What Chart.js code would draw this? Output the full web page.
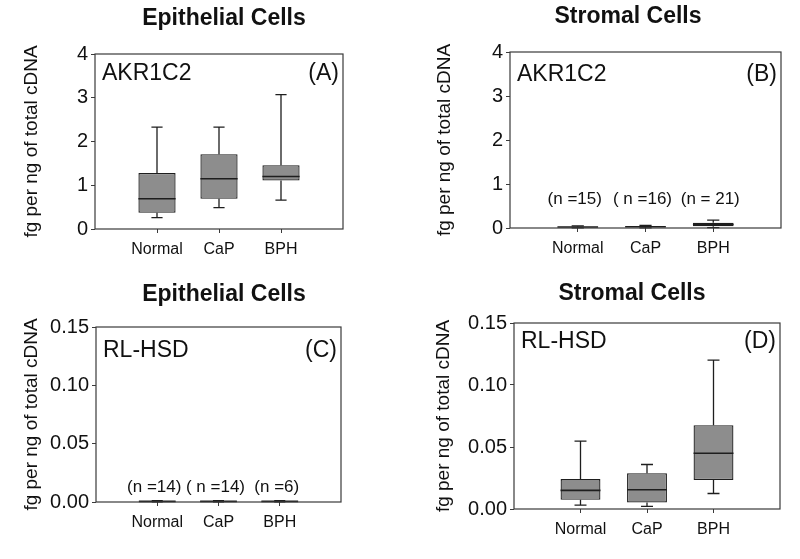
<!DOCTYPE html>
<html>
<head>
<meta charset="utf-8">
<script src="https://cdn.jsdelivr.net/npm/chart.js@4"></script>
<style>
  html,body{margin:0;padding:0;background:#fff;}
  #wrap{position:relative;width:800px;height:559px;overflow:hidden;background:#fff;}
  canvas{position:absolute;}
</style>
</head>
<body>
<div id="wrap">
  <canvas id="cA" width="400" height="280" style="left:0;top:0"></canvas>
  <canvas id="cB" width="400" height="280" style="left:400px;top:0"></canvas>
  <canvas id="cC" width="400" height="279" style="left:0;top:280px"></canvas>
  <canvas id="cD" width="400" height="279" style="left:400px;top:280px"></canvas>
</div>
<script>
// ---------- DATA ----------
const categories = ['Normal', 'CaP', 'BPH'];

// Panel A: AKR1C2, epithelial cells
const akrEpiMin    = [0.26, 0.49, 0.66];
const akrEpiQ1     = [0.37, 0.69, 1.11];
const akrEpiMedian = [0.69, 1.15, 1.20];
const akrEpiQ3     = [1.28, 1.71, 1.46];
const akrEpiMax    = [2.33, 2.33, 3.07];

// Panel B: AKR1C2, stromal cells
const akrStrMin    = [0.005, 0.005, 0.01];
const akrStrQ1     = [0.015, 0.02, 0.04];
const akrStrMedian = [0.022, 0.028, 0.08];
const akrStrQ3     = [0.03, 0.035, 0.12];
const akrStrMax    = [0.05, 0.06, 0.18];
const akrStrN      = ['(n =15)', '( n =16)', '(n = 21)'];
const akrStrNLevel = 0.66;

// Panel C: RL-HSD, epithelial cells
const rlEpiMin    = [0.0001, 0.0001, 0.0001];
const rlEpiQ1     = [0.0003, 0.0003, 0.0003];
const rlEpiMedian = [0.0005, 0.0005, 0.0005];
const rlEpiQ3     = [0.0008, 0.0008, 0.0008];
const rlEpiMax    = [0.0012, 0.0012, 0.0012];
const rlEpiN      = ['(n =14)', '( n =14)', '(n =6)'];
const rlEpiNLevel = 0.013;

// Panel D: RL-HSD, stromal cells
const rlStrMin    = [0.0032, 0.0021, 0.0125];
const rlStrQ1     = [0.0075, 0.0053, 0.0233];
const rlStrMedian = [0.0150, 0.0155, 0.0450];
const rlStrQ3     = [0.0241, 0.0289, 0.0675];
const rlStrMax    = [0.0547, 0.0359, 0.1200];

const akrTicks = [0, 1, 2, 3, 4];
const rlTicks  = [0, 0.05, 0.10, 0.15];

// ---------- STYLE ----------
const FONT = "'Liberation Sans', Arial, Helvetica, sans-serif";
const BOX_FILL = '#8d8d8d';
const INK = '#1e1e1e';
const AXIS = '#3a3a3a';

// ---------- PLUGINS ----------
const boxPlotPlugin = {
  id: 'boxPlot',
  afterDatasetsDraw(chart, args, opts) {
    const ctx = chart.ctx, xs = chart.scales.x, ys = chart.scales.y;
    const meta = chart.getDatasetMeta(0);
    ctx.save();
    ctx.strokeStyle = INK;
    opts.min.forEach((mn, i) => {
      const el = meta.data[i];
      const x = xs.getPixelForValue(i + 1);
      const w = el.width;
      const cap = w * 0.3;
      const yMin = ys.getPixelForValue(mn);
      const yMed = ys.getPixelForValue(opts.median[i]);
      const yQ1 = ys.getPixelForValue(opts.q1[i]);
      const yQ3 = ys.getPixelForValue(opts.q3[i]);
      const yMax = ys.getPixelForValue(opts.max[i]);
      ctx.lineWidth = 1.3;
      ctx.beginPath();
      ctx.moveTo(x, yQ3); ctx.lineTo(x, yMax);
      ctx.moveTo(x - cap / 2, yMax); ctx.lineTo(x + cap / 2, yMax);
      ctx.moveTo(x, yQ1); ctx.lineTo(x, yMin);
      ctx.moveTo(x - cap / 2, yMin); ctx.lineTo(x + cap / 2, yMin);
      ctx.stroke();
      ctx.lineWidth = 1.6;
      ctx.beginPath();
      ctx.moveTo(x - w / 2, yMed); ctx.lineTo(x + w / 2, yMed);
      ctx.stroke();
    });
    ctx.restore();
  }
};

const panelTextPlugin = {
  id: 'panelText',
  afterDraw(chart, args, opts) {
    const ctx = chart.ctx, a = chart.chartArea, xs = chart.scales.x, ys = chart.scales.y;
    ctx.save();
    ctx.strokeStyle = AXIS;
    ctx.lineWidth = 1.2;
    ctx.strokeRect(a.left, a.top, a.right - a.left, a.bottom - a.top);
    ctx.fillStyle = '#111';
    ctx.textBaseline = 'middle';
    ctx.font = "bold 23px " + FONT;
    ctx.textAlign = 'center';
    ctx.fillText(opts.title, opts.titleX, opts.titleY);
    ctx.font = "23px " + FONT;
    ctx.textAlign = 'left';
    ctx.fillText(opts.gene, a.left + 7, a.top + opts.labelDy);
    ctx.textAlign = 'right';
    ctx.fillText(opts.tag, a.right - 4, a.top + opts.labelDy);
    if (opts.n) {
      ctx.font = "17px " + FONT;
      ctx.textAlign = 'center';
      const y = ys.getPixelForValue(opts.nLevel);
      opts.n.forEach((t, i) => ctx.fillText(t, xs.getPixelForValue(i + 1) - 3, y));
    }
    ctx.restore();
  }
};

function makeChart(id, cfg) {
  const data = categories.map((c, i) => ({ x: i + 1, y: [cfg.q1[i], cfg.q3[i]] }));
  return new Chart(document.getElementById(id), {
    type: 'bar',
    data: {
      datasets: [{
        data: data,
        backgroundColor: BOX_FILL,
        borderColor: INK,
        borderWidth: 1.3,
        borderSkipped: false,
        barPercentage: 0.6,
        categoryPercentage: 1.0
      }]
    },
    options: {
      responsive: false,
      animation: false,
      devicePixelRatio: 1,
      layout: { padding: cfg.pad },
      plugins: {
        legend: { display: false },
        tooltip: { enabled: false },
        title: { display: false },
        boxPlot: { min: cfg.min, q1: cfg.q1, median: cfg.median, q3: cfg.q3, max: cfg.max },
        panelText: {
          title: cfg.title, titleX: cfg.titleX, titleY: cfg.titleY,
          gene: cfg.gene, tag: cfg.tag, labelDy: cfg.labelDy,
          n: cfg.n, nLevel: cfg.nLevel
        }
      },
      scales: {
        x: {
          type: 'linear',
          min: 0, max: 4,
          offset: false,
          afterBuildTicks: (s) => { s.ticks = categories.map((c, i) => ({ value: i + 1 })); },
          afterFit: (s) => { s.height = 40; },
          border: { display: false },
          grid: { display: true, offset: false, drawOnChartArea: false, drawTicks: true, tickLength: 4, color: AXIS, lineWidth: 1 },
          ticks: {
            padding: 7,
            color: '#111',
            font: { family: FONT, size: 16 },
            callback: (v) => categories[v - 1] || ''
          }
        },
        y: {
          type: 'linear',
          min: cfg.ticks[0], max: cfg.ticks[cfg.ticks.length - 1],
          afterBuildTicks: (s) => { s.ticks = cfg.ticks.map(v => ({ value: v })); },
          afterFit: (s) => { s.width = cfg.yWidth; },
          border: { display: false },
          grid: { display: true, offset: false, drawOnChartArea: false, drawTicks: true, tickLength: 4, color: AXIS, lineWidth: 1 },
          ticks: {
            padding: 3,
            color: '#111',
            font: { family: FONT, size: 20 },
            callback: (v) => cfg.fmt(v)
          },
          title: {
            display: true,
            text: 'fg per ng of total cDNA',
            color: '#111',
            font: { family: FONT, size: 19 },
            padding: { top: 4, bottom: 4 }
          }
        }
      }
    },
    plugins: [boxPlotPlugin, panelTextPlugin]
  });
}

const fmtInt = (v) => String(Math.round(v));
const fmt2 = (v) => v.toFixed(2);

makeChart('cA', {
  min: akrEpiMin, q1: akrEpiQ1, median: akrEpiMedian, q3: akrEpiQ3, max: akrEpiMax,
  ticks: akrTicks, fmt: fmtInt,
  pad: { left: 16, right: 57, top: 54, bottom: 11 }, yWidth: 79,
  title: 'Epithelial Cells', titleX: 224, titleY: 19,
  gene: 'AKR1C2', tag: '(A)', labelDy: 20
});
makeChart('cB', {
  min: akrStrMin, q1: akrStrQ1, median: akrStrMedian, q3: akrStrQ3, max: akrStrMax,
  ticks: akrTicks, fmt: fmtInt,
  pad: { left: 29, right: 19, top: 52, bottom: 12 }, yWidth: 81,
  title: 'Stromal Cells', titleX: 228, titleY: 17,
  gene: 'AKR1C2', tag: '(B)', labelDy: 23,
  n: akrStrN, nLevel: akrStrNLevel
});
makeChart('cC', {
  min: rlEpiMin, q1: rlEpiQ1, median: rlEpiMedian, q3: rlEpiQ3, max: rlEpiMax,
  ticks: rlTicks, fmt: fmt2,
  pad: { left: 16, right: 59, top: 47, bottom: 17 }, yWidth: 80,
  title: 'Epithelial Cells', titleX: 224, titleY: 15,
  gene: 'RL-HSD', tag: '(C)', labelDy: 24,
  n: rlEpiN, nLevel: rlEpiNLevel
});
makeChart('cD', {
  min: rlStrMin, q1: rlStrQ1, median: rlStrMedian, q3: rlStrQ3, max: rlStrMax,
  ticks: rlTicks, fmt: fmt2,
  pad: { left: 28, right: 20, top: 43, bottom: 10 }, yWidth: 86,
  title: 'Stromal Cells', titleX: 232, titleY: 14,
  gene: 'RL-HSD', tag: '(D)', labelDy: 19
});
</script>
</body>
</html>
